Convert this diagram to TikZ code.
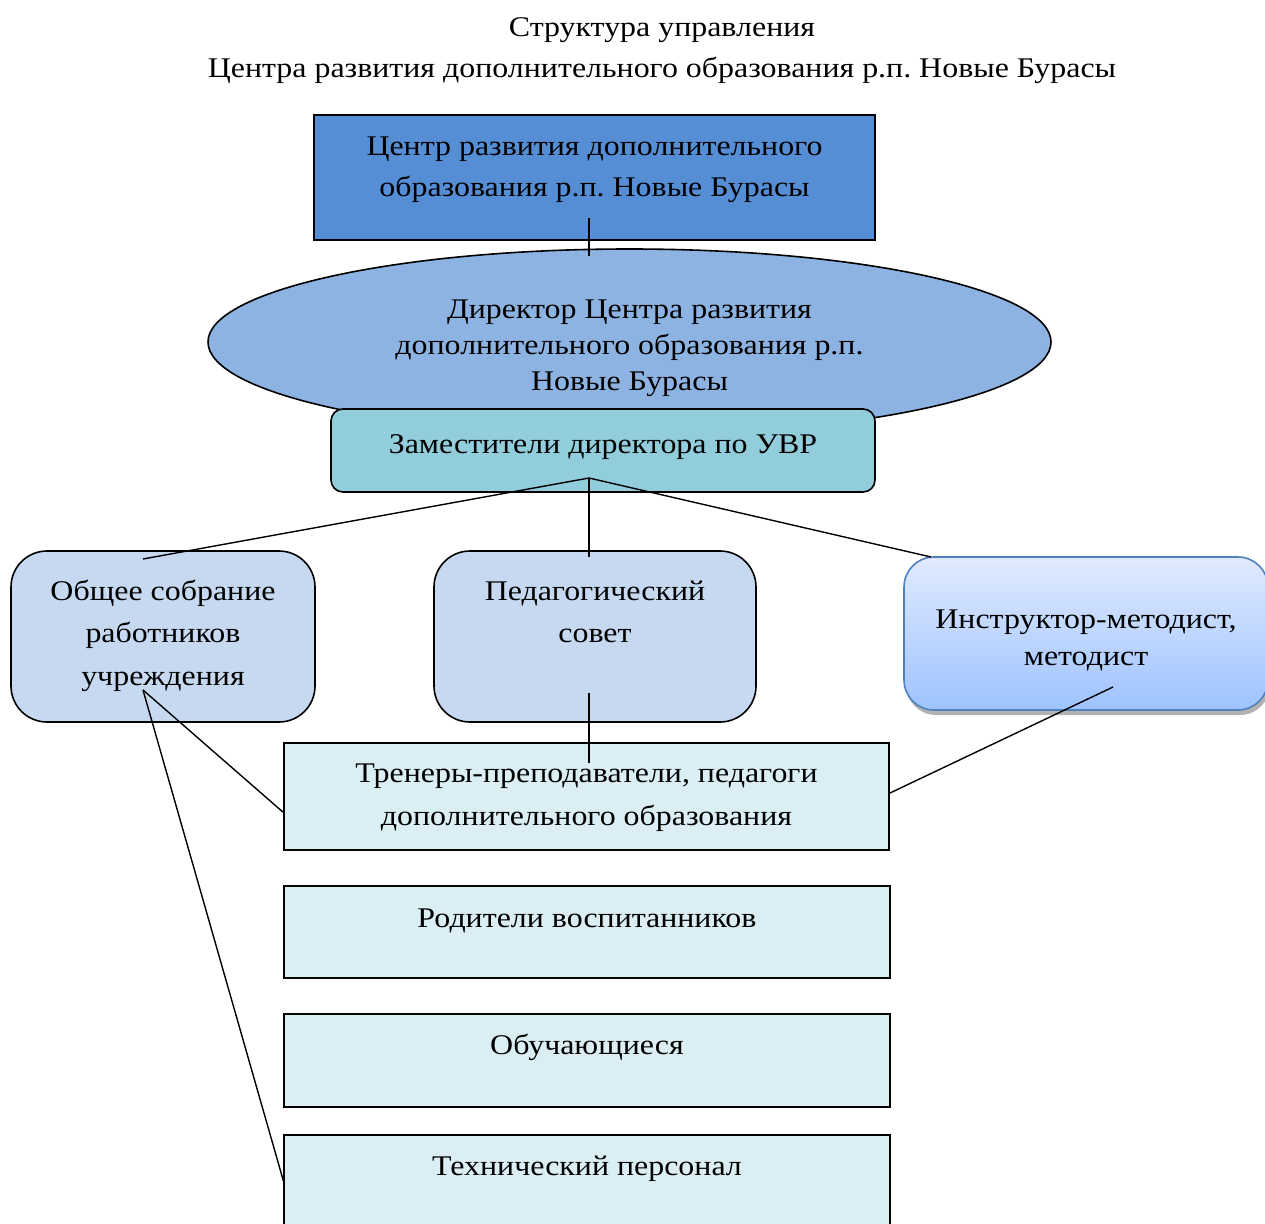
\documentclass[tikz,border=0pt]{standalone}
\usepackage{fontspec}
\setmainfont{Liberation Serif}[FakeStretch=1.12]
\usetikzlibrary{shapes.geometric,shadows,calc}
\definecolor{cTop}{RGB}{85,142,213}
\definecolor{cEll}{RGB}{141,179,226}
\definecolor{cZam}{RGB}{146,205,220}
\definecolor{cMid}{RGB}{198,217,241}
\definecolor{cLow}{RGB}{218,238,243}
\definecolor{insT}{RGB}{224,234,255}
\definecolor{insB}{RGB}{158,195,255}
\definecolor{insD}{RGB}{79,129,189}
\frenchspacing
\newcommand\bx[5]{\parbox[c][#2pt][t]{#1pt}{\centering\frenchspacing\setlength\baselineskip{#4pt}\rule{0pt}{#3pt}#5\par}}
\begin{document}
\begin{tikzpicture}[x=1pt,y=-1pt,
  every node/.style={font=\fontsize{28.5}{41.5}\selectfont, inner sep=0pt, outer sep=0pt},
  box/.style={draw, line width=1.6pt},
  rbox/.style={box, rounded corners=#1},
  conn/.style={line width=1.4pt}]
\useasboundingbox (0,0) rectangle (1265,1223);
% title
\node (title) at (662,45) {\bx{1100}{90}{36.7}{40.6}{Структура управления\\Центра развития дополнительного образования р.п. Новые Бурасы}};
% top box
\node[box, fill=cTop] (c1) at (594.5,177.5) {\bx{561}{125}{40}{41.5}{Центр развития дополнительного\\образования р.п. Новые Бурасы}};
% director ellipse
\node[ellipse, draw, line width=1.6pt, fill=cEll, minimum width=843pt, minimum height=186pt] (dir) at (629.5,342) {\bx{560}{100}{26}{36}{Директор Центра развития\\дополнительного образования р.п.\\Новые Бурасы}};
% deputies
\node[rbox=12pt, fill=cZam] (zam) at (603,450.5) {\bx{544}{83}{44}{41.5}{Заместители директора по УВР}};
% middle row
\node[rbox=36pt, fill=cMid] (obs) at (163,636.5) {\bx{304}{171}{49}{42.5}{Общее собрание\\работников\\учреждения}};
\node[rbox=36pt, fill=cMid] (ped) at (595,636.5) {\bx{322}{171}{49}{42.5}{Педагогический\\совет}};
\node[draw=insD, line width=1.6pt, rounded corners=30pt, top color=insT, bottom color=insB,
      drop shadow={shadow xshift=2pt, shadow yshift=-5pt, opacity=0.5, fill=black!60}] (ins) at (1086,633.5) {\bx{364}{153}{71}{37}{Инструктор-методист,\\методист}};
% lower boxes
\node[box, fill=cLow] (tren) at (586.5,796.5) {\bx{605}{107}{39}{43.5}{Тренеры-преподаватели, педагоги\\дополнительного образования}};
\node[box, fill=cLow] (rod) at (587,932) {\bx{606}{92}{41}{41.5}{Родители воспитанников}};
\node[box, fill=cLow] (obu) at (587,1060.5) {\bx{606}{93}{40}{41.5}{Обучающиеся}};
\node[box, fill=cLow] (teh) at (587,1181.5) {\bx{606}{93}{40}{41.5}{Технический персонал}};
% connectors
\draw[conn] ($(c1.south)+(-5.5,-22)$) -- ($(dir.north)+(-40.5,7)$);
\coordinate (apex) at ($(zam.south)+(-14,-14)$);
\draw[conn] (apex) -- ($(obs.north)+(-20,8)$);
\draw[conn] (apex) -- ($(ped.north)+(-6,6)$);
\draw[conn] (apex) -- ($(ins.north west)+(27,0)$);
\draw[conn] ($(ped.south)+(-6,-29)$) -- ($(tren.north)+(2.5,20)$);
\draw[conn] ($(ins.south)+(27,-23)$) -- ($(tren.east)+(1,-3.5)$);
\coordinate (obsP) at ($(obs.south)+(-20,-32)$);
\draw[conn] (obsP) -- ($(tren.west)+(0,16.5)$);
\draw[conn] (obsP) -- ($(teh.west)+(0,1.5)$);
\end{tikzpicture}
\end{document}
